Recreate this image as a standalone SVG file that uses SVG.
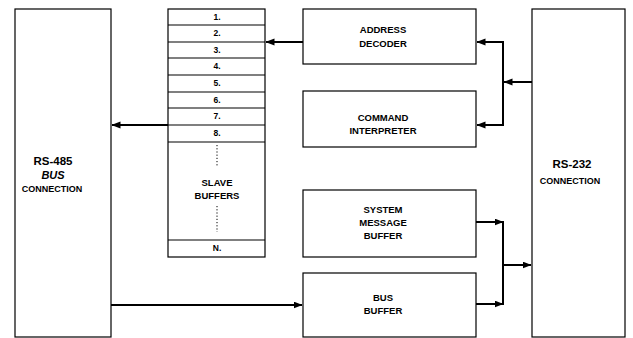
<svg xmlns="http://www.w3.org/2000/svg" width="633" height="338" viewBox="0 0 633 338">
<style>
.box{fill:#fff;stroke:#000;stroke-width:1.2}
.row{stroke:#000;stroke-width:1.2;fill:none}
.t{font-family:"Liberation Sans",Arial,sans-serif;font-weight:bold;font-size:9.5px;text-anchor:middle;fill:#000}
.big{font-size:11.5px}
.num{font-size:8.5px}
.sm{font-size:9px}
.it{font-style:italic;font-size:11px}
.con{stroke:#000;stroke-width:2;fill:none}
.dot{stroke:#000;stroke-width:1;stroke-dasharray:1.2 2;fill:none}
</style>
<defs>
<marker id="ah" markerUnits="userSpaceOnUse" markerWidth="9" markerHeight="8" refX="8.5" refY="3.5" orient="auto">
<path d="M0,0 L9,3.5 L0,7 z" fill="#000"/>
</marker>
</defs>
<rect width="633" height="338" fill="#fff"/>
<g id="rs485">
<rect class="box" x="15" y="9" width="96" height="328"/>
<text class="t big" x="53" y="165">RS-485</text>
<text class="t it" x="53" y="179">BUS</text>
<text class="t sm" x="52" y="192">CONNECTION</text>
</g>
<g id="slave-buffers">
<rect class="box" x="168" y="9" width="97" height="248"/>
<path class="row" d="M168,25H265M168,42H265M168,58H265M168,75H265M168,92H265M168,108H265M168,125H265M168,142H265M168,240H265"/>
<text class="t num" x="217" y="20">1.</text>
<text class="t num" x="217" y="36">2.</text>
<text class="t num" x="217" y="53">3.</text>
<text class="t num" x="217" y="69">4.</text>
<text class="t num" x="217" y="86">5.</text>
<text class="t num" x="217" y="103">6.</text>
<text class="t num" x="217" y="119">7.</text>
<text class="t num" x="217" y="136">8.</text>
<path class="dot" d="M217,145V166M217,206V232"/>
<text class="t" x="217" y="186">SLAVE</text>
<text class="t" x="217" y="199">BUFFERS</text>
<text class="t num" x="217" y="251">N.</text>
</g>
<g id="address-decoder">
<rect class="box" x="303" y="9" width="173" height="55"/>
<text class="t" x="383" y="33">ADDRESS</text>
<text class="t" x="383" y="47">DECODER</text>
</g>
<g id="command-interpreter">
<rect class="box" x="303" y="91" width="173" height="56"/>
<text class="t" x="383" y="121">COMMAND</text>
<text class="t" x="383" y="134">INTERPRETER</text>
</g>
<g id="system-message-buffer">
<rect class="box" x="303" y="190" width="173" height="67"/>
<text class="t" x="383" y="213">SYSTEM</text>
<text class="t" x="383" y="226">MESSAGE</text>
<text class="t" x="383" y="239">BUFFER</text>
</g>
<g id="bus-buffer">
<rect class="box" x="303" y="273" width="173" height="64"/>
<text class="t" x="383" y="301">BUS</text>
<text class="t" x="383" y="314">BUFFER</text>
</g>
<g id="rs232">
<rect class="box" x="532" y="9" width="93" height="328"/>
<text class="t big" x="572" y="168">RS-232</text>
<text class="t sm" x="570" y="184">CONNECTION</text>
</g>
<g id="connectors">
<path class="con" d="M303,42H266" marker-end="url(#ah)"/>
<path class="con" d="M168,125H112" marker-end="url(#ah)"/>
<path class="con" d="M532,82H504" marker-end="url(#ah)"/>
<path class="con" d="M503,41V126"/>
<path class="con" d="M503,42H477" marker-end="url(#ah)"/>
<path class="con" d="M503,125H477" marker-end="url(#ah)"/>
<path class="con" d="M476,222H503" marker-end="url(#ah)"/>
<path class="con" d="M476,304H503" marker-end="url(#ah)"/>
<path class="con" d="M503,221V305"/>
<path class="con" d="M503,265H531" marker-end="url(#ah)"/>
<path class="con" d="M111,305H302" marker-end="url(#ah)"/>
</g>
</svg>
